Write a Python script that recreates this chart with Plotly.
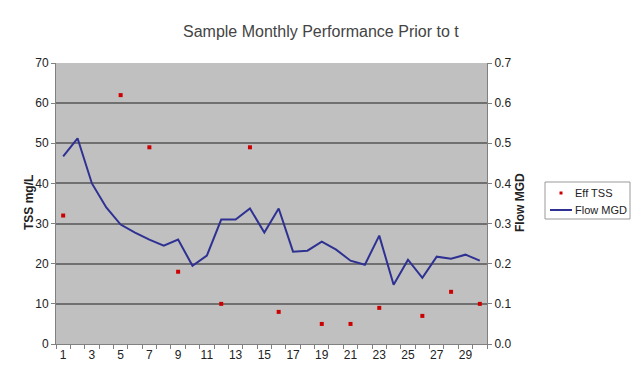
import plotly.graph_objects as go

days = list(range(1, 31))
flow_mgd = [0.4675, 0.5125, 0.40, 0.34, 0.2975, 0.2775, 0.26, 0.245, 0.26, 0.195,
            0.22, 0.31, 0.31, 0.3375, 0.2775, 0.3375, 0.23, 0.2325, 0.255, 0.235,
            0.2075, 0.1975, 0.27, 0.1475, 0.21, 0.165, 0.2175, 0.2125, 0.2225, 0.2075]
eff_tss = [32, None, None, None, 62, None, 49, None, 18, None,
           None, 10, None, 49, None, 8, None, None, 5, None,
           5, None, 9, None, None, 7, None, 13, None, 10]
x_tick_labels = [str(d) for d in range(1, 30, 2)]
legend_names = ["Eff TSS", "Flow MGD"]

FONT = "Liberation Sans, Arial, sans-serif"
OFF = 8  # page body margin
W, H = 640 - OFF, 384 - 2 * OFF - 2
TSS_COLOR = "#cc0000"
FLOW_COLOR = "#2e3192"
# plot area in reference (screen) pixels
PL, PR, PT, PB = 56, 487, 63, 344
L, R, T, B = PL - OFF, W - (PR - OFF), PT - OFF, H - (PB - OFF)
pw, ph = PR - PL, PB - PT


def px(x):
    return (x - PL) / pw


def py(y):
    return (PB - y) / ph


fig = go.Figure()
fig.add_trace(go.Scatter(x=days, y=eff_tss, mode="markers", name=legend_names[0],
                         marker=dict(symbol="square", size=4, color=TSS_COLOR),
                         yaxis="y"))
fig.add_trace(go.Scatter(x=days, y=flow_mgd, mode="lines", name=legend_names[1],
                         line=dict(color=FLOW_COLOR, width=2), yaxis="y2"))

# legend box (drawn manually to match the compact Excel-style legend)
LX0, LX1, LY0, LY1 = 545, 630, 182, 219
shapes = [
    dict(type="rect", xref="paper", yref="paper", x0=px(LX0), x1=px(LX1),
         y0=py(LY1), y1=py(LY0), line=dict(color="#999", width=1), fillcolor="white"),
    dict(type="rect", xref="paper", yref="paper", x0=px(559.5), x1=px(562.5),
         y0=py(194.5), y1=py(191.5), line=dict(width=0), fillcolor=TSS_COLOR),
    dict(type="line", xref="paper", yref="paper", x0=px(550), x1=px(572),
         y0=py(210), y1=py(210), line=dict(color=FLOW_COLOR, width=2)),
]
annotations = [
    dict(text="Sample Monthly Performance Prior to t", xref="paper", yref="paper",
         x=px(321), y=py(21), showarrow=False, font=dict(size=16, color="#444")),
    dict(text="<b>TSS mg/L</b>", xref="paper", yref="paper", x=px(20), y=py(203),
         textangle=-90, showarrow=False, font=dict(size=12, color="#222")),
    dict(text="<b>Flow MGD</b>", xref="paper", yref="paper", x=px(529), y=py(203),
         textangle=-90, showarrow=False, font=dict(size=12, color="#222")),
]
for name, yy in zip(legend_names, [193, 210]):
    annotations.append(dict(text=name, xref="paper", yref="paper", x=px(573), y=py(yy),
                            xanchor="left", yanchor="middle", showarrow=False,
                            font=dict(size=11, color="#222")))

fig.update_layout(
    width=W, height=H,
    margin=dict(l=L, r=R, t=T, b=B, pad=0, autoexpand=False),
    paper_bgcolor="white",
    plot_bgcolor="#c0c0c0",
    font=dict(family=FONT, size=12, color="#222"),
    showlegend=False,
    xaxis=dict(range=[0.5, 30.5], tickvals=list(range(1, 30, 2)), ticktext=x_tick_labels,
               ticks="", showgrid=False, zeroline=False, showline=True,
               linecolor="#808080", linewidth=1,
               minor=dict(tick0=0.5, dtick=1, ticks="outside", ticklen=4,
                          tickcolor="#808080", showgrid=False),
               tickfont=dict(size=12)),
    yaxis=dict(range=[0, 70], dtick=10, ticks="outside", ticklen=4, tickcolor="#808080",
               showgrid=True, gridcolor="#707070", gridwidth=2, zeroline=False,
               showline=True, linecolor="#808080", linewidth=1, tickfont=dict(size=12)),
    yaxis2=dict(range=[0, 0.7], dtick=0.1, tickformat=".1f", overlaying="y", side="right",
                ticks="outside", ticklen=4, tickcolor="#808080", showgrid=False,
                zeroline=False, showline=True, linecolor="#808080", linewidth=1,
                tickfont=dict(size=12)),
    shapes=shapes,
    annotations=annotations,
)

fig.write_html("out.html")
